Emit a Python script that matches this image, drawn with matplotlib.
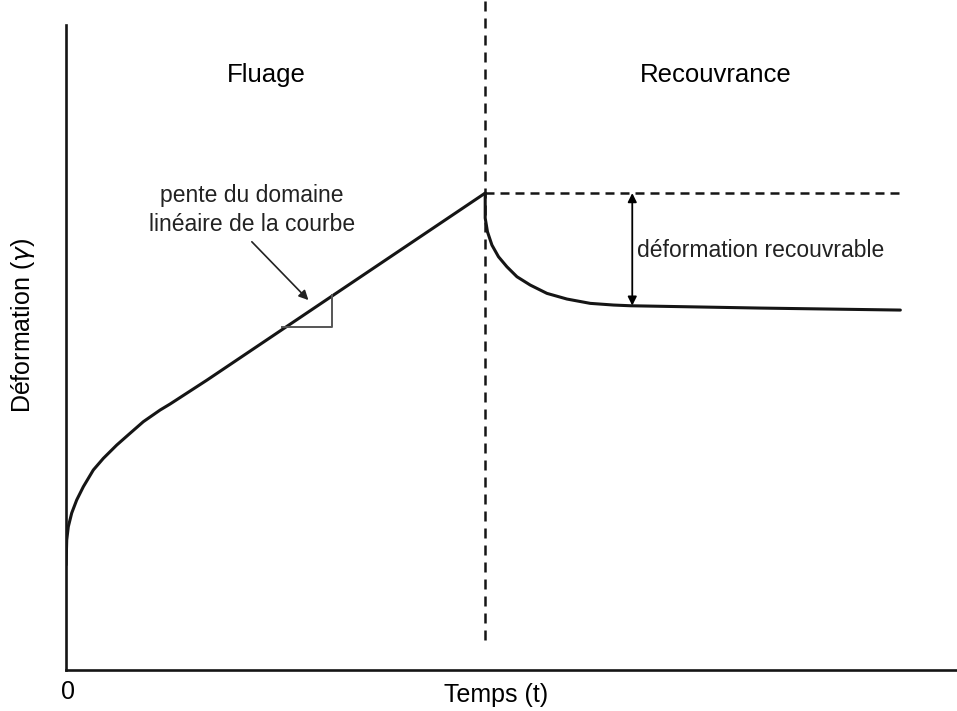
import numpy as np
import matplotlib.pyplot as plt

plt.rcParams['font.family'] = ['Liberation Sans', 'DejaVu Sans']

# Courbe de fluage (unités arbitraires)
t_fluage = [0.0, 0.008, 0.026, 0.065, 0.122, 0.198, 0.312, 0.427, 0.58,
            0.732, 0.884, 1.076, 1.19, 1.613, 4.794]
y_fluage = [1.628, 2.016, 2.222, 2.434, 2.636, 2.842, 3.101, 3.282, 3.488,
            3.67, 3.85, 4.031, 4.124, 4.496, 7.395]

# Courbe de recouvrance
t_recouv = [4.794, 4.794, 4.82, 4.871, 4.946, 5.042, 5.157, 5.309, 5.5,
            5.729, 5.995, 6.262, 6.453, 7.94, 9.542]
y_recouv = [7.395, 7.008, 6.795, 6.589, 6.408, 6.253, 6.098, 5.969, 5.84,
            5.752, 5.685, 5.659, 5.648, 5.612, 5.581]

t_arret = 4.794      # arrêt de la contrainte
y_max = 7.395
y_final = 5.65
t_fleche = 6.476

fig = plt.figure(figsize=(9.57, 7.11), dpi=100)
ax = fig.add_axes([0.069, 0.0577, 0.931, 0.907])
ax.set_xlim(0, 10.19)
ax.set_ylim(0, 10.0)

kw = dict(color='#151515', lw=2.2, solid_capstyle='round',
          solid_joinstyle='round')
ax.plot(t_fluage, y_fluage, **kw)
ax.plot(t_recouv, y_recouv, **kw)

# lignes pointillées
ax.plot([t_arret, t_arret], [0.465, 10.39], color='#151515', lw=1.8,
        dashes=(4.0, 2.8), clip_on=False)
ax.plot([t_arret, 9.6], [y_max, y_max], color='#151515', lw=1.8,
        dashes=(3.6, 2.4))

# déformation recouvrable
ax.annotate('', xy=(t_fleche, y_max), xytext=(t_fleche, y_final),
            arrowprops=dict(arrowstyle='<|-|>', color='black', lw=1.3,
                            mutation_scale=13, shrinkA=0, shrinkB=0))
ax.text(t_fleche + 0.055, 6.51, 'déformation recouvrable', fontsize=16.5,
        va='center', ha='left', color='#222222')

# triangle de pente
ax.plot([2.471, 3.043, 3.043], [5.318, 5.318, 5.814], color='#555555', lw=1.4)
ax.annotate('', xy=(2.772, 5.736), xytext=(2.125, 6.64),
            arrowprops=dict(arrowstyle='-|>', color='#222222', lw=1.2,
                            mutation_scale=14, shrinkA=0, shrinkB=0))
ax.text(2.128, 7.13, 'pente du domaine\nlinéaire de la courbe', fontsize=16.5,
        ha='center', va='center', linespacing=1.3, color='#222222')

ax.text(2.288, 9.22, 'Fluage', fontsize=18.5, ha='center', va='center')
ax.text(7.426, 9.22, 'Recouvrance', fontsize=18.5, ha='center', va='center')

ax.spines['top'].set_visible(False)
ax.spines['right'].set_visible(False)
ax.spines['left'].set_linewidth(1.9)
ax.spines['bottom'].set_linewidth(1.9)
ax.spines['left'].set_color('#151515')
ax.spines['bottom'].set_color('#151515')
ax.set_xticks([])
ax.set_yticks([])

ax.text(-0.0483, 0.535, 'Déformation ($\\gamma$)', transform=ax.transAxes,
        fontsize=18, rotation=90, ha='center', va='center')
ax.text(0.483, -0.039, 'Temps (t)', transform=ax.transAxes, fontsize=18,
        ha='center', va='center')
ax.text(0.002, -0.034, '0', transform=ax.transAxes, fontsize=18,
        ha='center', va='center')

fig.savefig('out.png', dpi=100)
